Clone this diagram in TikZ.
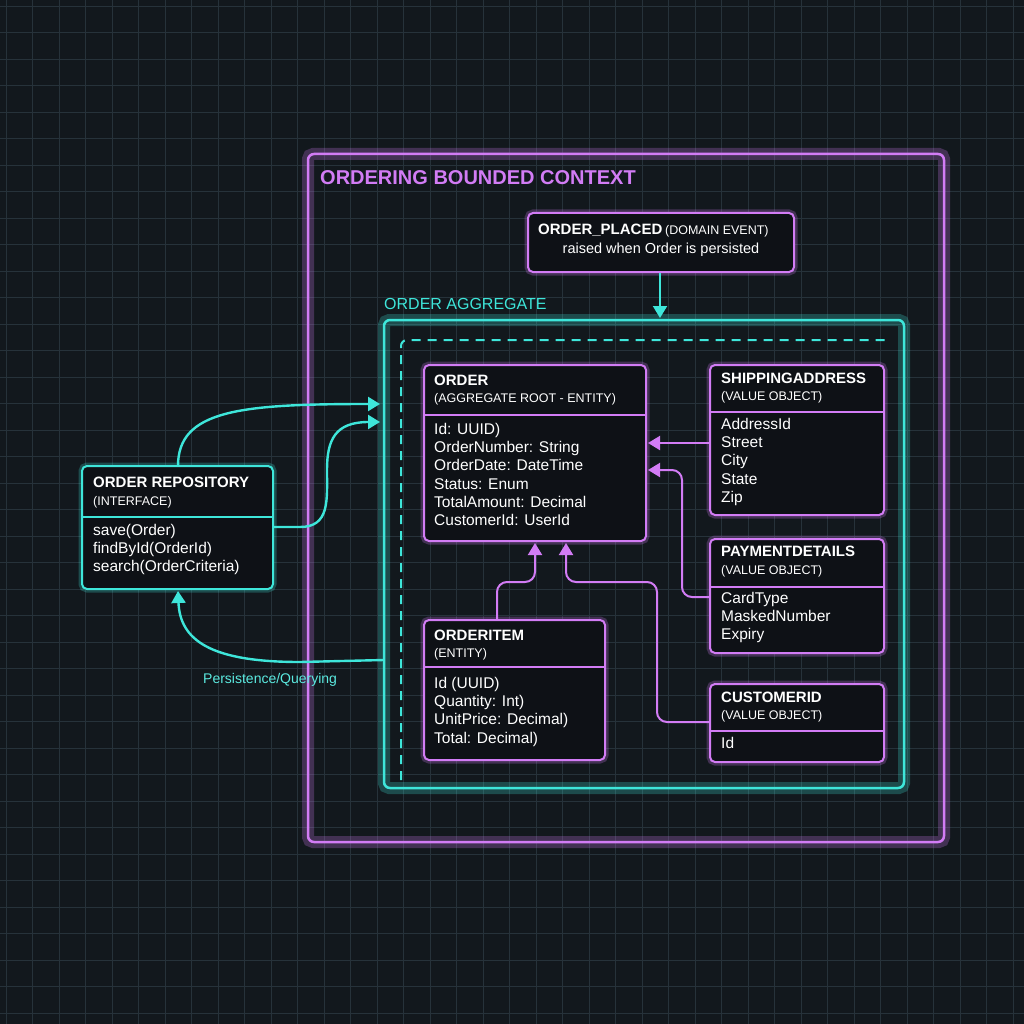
\documentclass[tikz,border=0pt]{standalone}
\usepackage{fontspec}
\setmainfont{Liberation Sans}
\usetikzlibrary{arrows.meta}
\definecolor{bg}{HTML}{12181D}
\definecolor{gridc}{HTML}{26323A}
\definecolor{pur}{HTML}{D27CF5}
\definecolor{cya}{HTML}{3EE6DA}
\definecolor{boxbg}{HTML}{0E1116}
\begin{document}
\begin{tikzpicture}[x=1pt,y=-1pt,
 glowp/.style={draw=pur,line width=7pt,opacity=0.25,rounded corners=5pt},
 glowc/.style={draw=cya,line width=7pt,opacity=0.25,rounded corners=5pt},
 pbox/.style={draw=pur,line width=2pt,fill=boxbg,rounded corners=5pt},
 cbox/.style={draw=cya,line width=2pt,fill=boxbg,rounded corners=5pt},
 ttl/.style={anchor=north west,inner sep=0pt,text=white,font=\bfseries\fontsize{15}{17}\selectfont},
 sub/.style={anchor=north west,inner sep=0pt,text=white!85,font=\fontsize{12.5}{14}\selectfont},
 body/.style={anchor=north west,inner sep=0pt,text=white!92,align=left,font=\fontsize{15.5}{18.2}\selectfont},
 parr/.style={draw=pur,line width=2pt,rounded corners=10pt,-{Triangle[length=12pt,width=14pt]}},
 carr/.style={draw=cya,line width=2.4pt,-{Triangle[length=12pt,width=14pt]}}]
\fill[bg] (0,0) rectangle (1024,1024);
\useasboundingbox (0,0) rectangle (1024,1024);
\foreach \i in {0,...,39} {\draw[gridc,line width=0.8pt] (\i*26.5+6,0) -- (\i*26.5+6,1024); \draw[gridc,line width=0.8pt] (0,\i*26.5+6) -- (1024,\i*26.5+6);}
% bounded context
\draw[glowp,line width=12pt] (308,154) rectangle (944,842);
\draw[pur,line width=2.5pt,rounded corners=6pt] (308,154) coordinate (bcA) rectangle (944,842) coordinate (bcB);
\node[anchor=west,inner sep=0pt,text=pur,font=\bfseries\fontsize{20}{22}\selectfont] (bct) at (320,178) {ORDERING BOUNDED CONTEXT};
% aggregate
\node[anchor=west,inner sep=0pt,text=cya,font=\fontsize{16}{18}\selectfont] (aggt) at (384,304) {ORDER AGGREGATE};
\draw[glowc,line width=12pt] (384,320) rectangle (904,788);
\draw[cya,line width=2.5pt,rounded corners=6pt] (384,320) coordinate (agA) rectangle (904,788) coordinate (agB);
\draw[cya,line width=2pt,dash pattern=on 9pt off 7pt,rounded corners=6pt] (401,780) -- (401,340) -- (888,340);
% event
\draw[glowp] (528,213) rectangle (794,272);
\draw[pbox] (528,213) rectangle (794,272);
\node[anchor=north west,inner sep=0pt,text=white] (ev1) at (538,224) {{\bfseries\fontsize{15}{17}\selectfont ORDER\_PLACED} {\fontsize{12.5}{14}\selectfont (DOMAIN EVENT)}};
\node[anchor=north,inner sep=0pt,text=white!90,font=\fontsize{14.5}{16}\selectfont] (ev2) at (661,243) {raised when Order is persisted};
\coordinate (evb) at (660,273); \coordinate (agt) at (660,318);
\draw[carr,line width=2pt] (evb) -- (agt);
% class boxes
\newcommand\umlbox[7]{%
 \draw[glowp] (#2,#3) rectangle (#4,#5);
 \draw[pbox] (#2,#3) coordinate (#1A) rectangle (#4,#5) coordinate (#1B);
 \draw[pur,line width=2pt] (#2,#6) -- (#4,#6);}
\umlbox{ord}{424}{365}{646}{541}{415}{}
\node[ttl] (ordt) at (434,375) {ORDER};
\node[sub] (ords) at (434,393) {(AGGREGATE ROOT - ENTITY)};
\node[body] (ordb) at (434,423) {Id: UUID)\\OrderNumber: String\\OrderDate: DateTime\\Status: Enum\\TotalAmount: Decimal\\CustomerId: UserId};
\umlbox{shp}{710}{365}{884}{515}{412}{}
\node[ttl] (shpt) at (721,373) {SHIPPINGADDRESS};
\node[sub] (shps) at (721,391) {(VALUE OBJECT)};
\node[body] (shpb) at (721,418) {AddressId\\Street\\City\\State\\Zip};
\umlbox{pay}{710}{539}{884}{653}{587}{}
\node[ttl] (payt) at (721,546) {PAYMENTDETAILS};
\node[sub] (pays) at (721,565) {(VALUE OBJECT)};
\node[body] (payb) at (721,592) {CardType\\MaskedNumber\\Expiry};
\umlbox{cus}{710}{684}{884}{762}{731}{}
\node[ttl] (cust) at (721,692) {CUSTOMERID};
\node[sub] (cuss) at (721,710) {(VALUE OBJECT)};
\node[body] (cusb) at (721,737) {Id};
\umlbox{itm}{424}{620}{605}{760}{667}{}
\node[ttl] (itmt) at (434,630) {ORDERITEM};
\node[sub] (itms) at (434,648) {(ENTITY)};
\node[body] (itmb) at (434,677) {Id (UUID)\\Quantity: Int)\\UnitPrice: Decimal)\\Total: Decimal)};
% repository
\draw[glowc] (82,466) rectangle (273,589);
\draw[cbox] (82,466) coordinate (repA) rectangle (273,589) coordinate (repB);
\draw[cya,line width=2pt] (82,517) -- (273,517);
\node[ttl] (rept) at (93,477) {ORDER REPOSITORY};
\node[sub] (reps) at (93,496) {(INTERFACE)};
\node[body] (repb) at (93,524) {save(Order)\\findById(OrderId)\\search(OrderCriteria)};
% purple connectors
\coordinate (shpL) at (710,443); \coordinate (ordR1) at (648,443);
\coordinate (payL) at (710,597); \coordinate (ordR2) at (648,470);
\coordinate (cusL) at (710,722); \coordinate (ordB2) at (566,543);
\coordinate (itmT) at (497,620); \coordinate (ordB1) at (535,543);
\draw[parr] (shpL) -- (ordR1);
\draw[parr] (payL) -- (682,597) -- (682,470) -- (ordR2);
\draw[parr] (cusL) -- (657,722) -- (657,582) -- (566,582) -- (ordB2);
\draw[parr] (itmT) -- (497,582) -- (535,582) -- (ordB1);
% cyan connectors
\coordinate (repT) at (178,466); \coordinate (agL1) at (380,404);
\coordinate (repR) at (273,527); \coordinate (agL2) at (380,422);
\coordinate (agL3) at (384,660); \coordinate (repBo) at (178,591);
\draw[carr] (repT) .. controls (178,410) and (240,404) .. (agL1);
\draw[carr] (repR) -- (300,527) .. controls (330,527) and (327,500) .. (327,470) .. controls (327,440) and (335,422) .. (agL2);
\draw[carr] (agL3) -- (300,662) .. controls (210,662) and (180,640) .. (repBo);
\node[anchor=west,inner sep=0pt,text=cya!85!white,font=\fontsize{14}{16}\selectfont] (pq) at (203,680) {Persistence/Querying};
\end{tikzpicture}
\end{document}
